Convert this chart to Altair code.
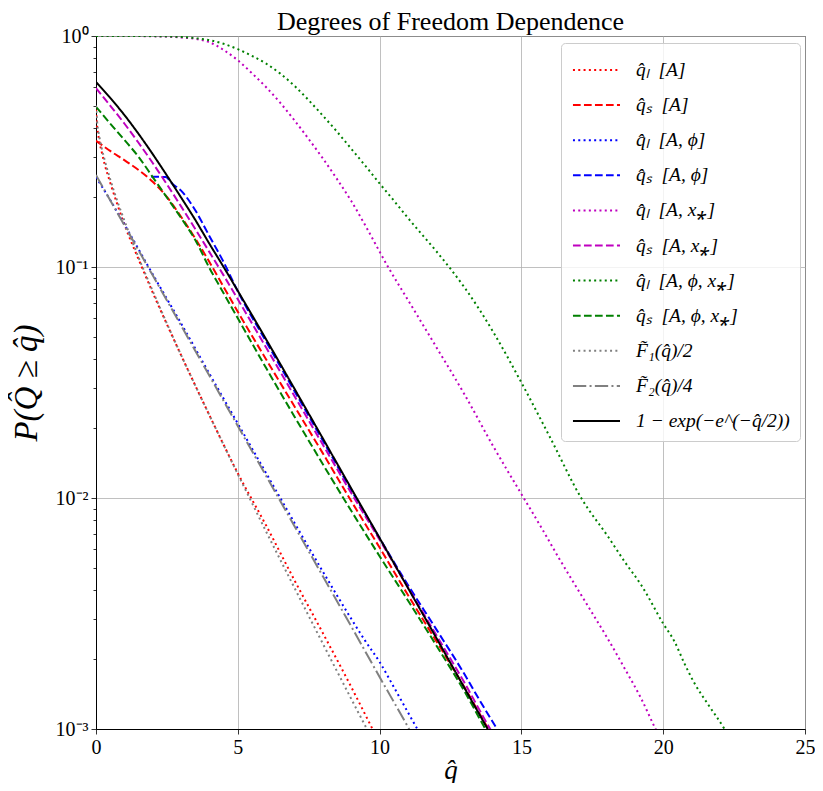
import altair as alt
import pandas as pd

# ---------------- data ----------------
labels = [
    "q̂ₗ\u2002[A]", "q̂ₛ\u2002[A]",
    "q̂ₗ\u2002[A, ϕ]", "q̂ₛ\u2002[A, ϕ]",
    "q̂ₗ\u2002[A, x⁎]", "q̂ₛ\u2002[A, x⁎]",
    "q̂ₗ\u2002[A, ϕ, x⁎]", "q̂ₛ\u2002[A, ϕ, x⁎]",
    "F̃₁(q̂)/2", "F̃₂(q̂)/4",
    "1 − exp(−e^(−q̂/2))",
]

# q_L [A]  (red dotted)
qL_A_q = [0, 0.03, 0.1, 0.2, 0.3, 0.5, 0.75, 1, 1.5, 2, 2.5, 3, 3.5, 4, 5, 6, 7, 8, 9, 9.75, 9.9]
qL_A_p = [0.48, 0.42, 0.36, 0.315, 0.28, 0.232, 0.187, 0.153, 0.108, 0.0775, 0.0565, 0.0415, 0.0307,
          0.0228, 0.0128, 0.0076, 0.0044, 0.0026, 0.00152, 0.001, 0.00092]
# q_S [A]  (red dashed)
qS_A_q = [0, 0.2, 0.5, 1, 1.5, 2, 2.5, 3, 3.5, 4, 4.5, 5, 6, 7, 8, 9, 10, 11, 12, 13, 13.84, 14]
qS_A_p = [0.352, 0.338, 0.318, 0.290, 0.263, 0.234, 0.201, 0.165, 0.133, 0.105, 0.082, 0.064, 0.0398,
          0.0249, 0.0156, 0.0097, 0.0061, 0.0038, 0.0024, 0.00151, 0.001, 0.00093]
# q_L [A, phi]  (blue dotted)
qL_Aphi_q = [0, 0.5, 1, 2, 3, 4, 5, 6, 7, 8, 9, 9.5, 10, 10.5, 11, 11.33, 11.5]
qL_Aphi_p = [0.245, 0.195, 0.153, 0.093, 0.057, 0.0345, 0.021, 0.0128, 0.0078, 0.0048, 0.0030, 0.0024,
             0.00195, 0.00152, 0.00118, 0.001, 0.00092]
# q_S [A, phi]  (blue dashed)
qS_Aphi_q = [1.95, 2.45, 2.7, 3, 3.5, 4, 4.5, 5, 6, 7, 8, 9, 10, 11, 12, 13, 13.5, 14.14, 14.3]
qS_Aphi_p = [0.246, 0.245, 0.229, 0.214, 0.176, 0.136, 0.105, 0.0785, 0.0475, 0.0290, 0.0177, 0.0108,
             0.0067, 0.0042, 0.0027, 0.00172, 0.00135, 0.001, 0.00093]
# q_L [A, x*]  (magenta dotted)
qL_Ax_q = [0, 1, 2, 3, 3.6, 4, 4.5, 5, 5.5, 6, 6.5, 7, 7.5, 8, 8.5, 9, 9.5, 10.3, 11, 12, 13, 14, 15,
           15.73, 16.32, 16.9, 17.48, 18.07, 18.65, 19.23, 19.73, 19.9]
qL_Ax_p = [1.0, 1.0, 0.997, 0.985, 0.967, 0.94, 0.87, 0.785, 0.69, 0.60, 0.513, 0.431, 0.358, 0.295,
           0.240, 0.193, 0.151, 0.100, 0.072, 0.045, 0.028, 0.0168, 0.0104, 0.00735, 0.00550, 0.00419,
           0.00320, 0.00243, 0.00182, 0.00135, 0.001, 0.00091]
# q_S [A, x*]  (magenta dashed)
qS_Ax_q = [0, 0.5, 1, 1.5, 2, 2.5, 3, 3.5, 4, 4.5, 5, 6, 7, 8, 9, 10, 11, 12, 13, 13.9, 14.1]
qS_Ax_p = [0.595, 0.50, 0.418, 0.345, 0.282, 0.228, 0.183, 0.146, 0.116, 0.092, 0.0725, 0.0448, 0.0276,
           0.0170, 0.0105, 0.0066, 0.0041, 0.00255, 0.00158, 0.001, 0.00091]
# q_L [A, phi, x*]  (green dotted)
qL_Aphix_q = [0, 1, 2, 3, 3.6, 4, 4.5, 5, 5.5, 6, 6.5, 7, 7.5, 8, 8.5, 9, 9.5, 10, 10.5, 11, 11.5, 12,
              12.45, 13, 13.5, 14, 15, 16, 17.13, 18.07, 18.65, 19.23, 20, 20.4, 20.75, 21.1,
              21.56, 22.14, 22.4]
qL_Aphix_p = [1.0, 1.0, 0.999, 0.99, 0.975, 0.96, 0.925, 0.877, 0.820, 0.759, 0.687, 0.608, 0.527,
              0.452, 0.385, 0.325, 0.274, 0.230, 0.194, 0.163, 0.138, 0.117, 0.100, 0.0813, 0.066,
              0.0525, 0.0316, 0.0184, 0.0099, 0.00676, 0.00528, 0.00419, 0.00286, 0.00239, 0.00192,
              0.00158, 0.00129, 0.00101, 0.00089]
# q_S [A, phi, x*]  (green dashed)
qS_Aphix_q = [0, 0.5, 1, 1.5, 2, 2.5, 3, 3.5, 4, 4.5, 5, 6, 7, 8, 9, 10, 11, 12, 13, 13.73, 13.9]
qS_Aphix_p = [0.494, 0.418, 0.355, 0.300, 0.245, 0.200, 0.163, 0.131, 0.099, 0.077, 0.060, 0.0365,
              0.0225, 0.0140, 0.0088, 0.0056, 0.0036, 0.0023, 0.00145, 0.001, 0.00092]
# F1(q)/2  (gray dotted)
F1_q = [0, 0.05, 0.1, 0.2, 0.3, 0.5, 0.75, 1, 1.5, 2, 2.5, 3, 3.5, 4, 5, 6, 7, 8, 9, 9.55, 9.7]
F1_p = [0.5, 0.411, 0.376, 0.327, 0.292, 0.240, 0.193, 0.159, 0.110, 0.0787, 0.0569, 0.0416, 0.0307,
        0.0228, 0.0127, 0.00715, 0.00408, 0.00234, 0.00135, 0.001, 0.00092]
# F2(q)/4  (gray dash-dot)
F2_q = [0, 1, 2, 3, 4, 5, 6, 7, 8, 9, 10, 11, 11.2]
F2_p = [0.25, 0.1516, 0.0920, 0.0558, 0.0338, 0.0205, 0.01245, 0.00755, 0.00458, 0.00278, 0.00168,
        0.00102, 0.00092]
# 1 - exp(-e^{-q/2})  (black solid)
G_q = [0, 0.5, 1, 1.5, 2, 2.5, 3, 3.5, 4, 4.5, 5, 6, 7, 8, 9, 10, 11, 12, 13, 14]
G_p = [0.632, 0.540, 0.455, 0.377, 0.308, 0.249, 0.200, 0.160, 0.126, 0.100, 0.0788, 0.0486, 0.0297,
       0.0181, 0.0110, 0.00671, 0.00408, 0.00248, 0.00150, 0.00091]

series_q = [qL_A_q, qS_A_q, qL_Aphi_q, qS_Aphi_q, qL_Ax_q, qS_Ax_q, qL_Aphix_q, qS_Aphix_q, F1_q, F2_q, G_q]
series_p = [qL_A_p, qS_A_p, qL_Aphi_p, qS_Aphi_p, qL_Ax_p, qS_Ax_p, qL_Aphix_p, qS_Aphix_p, F1_p, F2_p, G_p]

colors = ["#ff0000", "#ff0000", "#0000ff", "#0000ff", "#bf00bf", "#bf00bf",
          "#008000", "#008000", "#808080", "#808080", "#000000"]
dot = [2, 3.3]
dash = [7.7, 3.3]
dashes = [dot, dash, dot, dash, dot, dash, dot, dash, dot, [13.3, 3.3, 2, 3.3], [1, 0]]

x_ticks = [0, 5, 10, 15, 20, 25]
y_ticks = [m * 10.0 ** e for e in (-3, -2, -1) for m in range(1, 10)] + [1.0]

rows = []
for k, (lab, qs, ps) in enumerate(zip(labels, series_q, series_p)):
    for q, p in zip(qs, ps):
        rows.append({"series": lab, "q": q, "p": p, "k": k})
df = pd.DataFrame(rows)

FONT = "Liberation Serif"
is_decade = "abs(log(datum.value)/LN10 - round(log(datum.value)/LN10)) < 0.001"
ylab = ("abs(datum.value-1) < 1e-9 ? '10⁰' : abs(datum.value-0.1) < 1e-9 ? '10⁻¹' : "
        "abs(datum.value-0.01) < 1e-10 ? '10⁻²' : abs(datum.value-0.001) < 1e-11 ? '10⁻³' : ''")

chart = alt.Chart(df).mark_line(clip=True, strokeWidth=2, interpolate="monotone").encode(
    x=alt.X("q:Q",
            scale=alt.Scale(domain=[0, 25], nice=False, zero=False),
            axis=alt.Axis(values=x_ticks, title="q̂", titleFontSize=27, titleFont=FONT,
                          titleFontWeight="normal", titleFontStyle="italic", titlePadding=0,
                          labelFontSize=20, labelFont=FONT, labelPadding=3, tickSize=5,
                          labelFlush=False)),
    y=alt.Y("p:Q",
            scale=alt.Scale(type="log", domain=[0.001, 1], nice=False),
            axis=alt.Axis(values=y_ticks, labelExpr=ylab, title="P(Q̂ ≥ q̂)", titleFontSize=33,
                          titleFont=FONT, titleFontWeight="normal", titleFontStyle="italic",
                          titlePadding=12, labelFontSize=20, labelFont=FONT, labelPadding=3,
                          labelFlush=False,
                          gridOpacity={"condition": {"test": is_decade, "value": 1}, "value": 0},
                          tickSize={"condition": {"test": is_decade, "value": 5}, "value": 3})),
    color=alt.Color("series:N", scale=alt.Scale(domain=labels, range=colors), title=None),
    strokeDash=alt.StrokeDash("series:N", scale=alt.Scale(domain=labels, range=dashes), title=None),
    order=alt.Order("k:Q"),
).properties(
    width=709,
    height=693,
    title=alt.TitleParams("Degrees of Freedom Dependence", fontSize=26, font=FONT,
                          fontWeight="normal", anchor="middle", offset=-9, color="black"),
    autosize=alt.AutoSizeParams(type="none"),
    padding={"left": 88, "top": 28, "right": 10, "bottom": 54},
).configure_axis(
    gridColor="#b0b0b0", gridWidth=0.8, domainColor="black", domainWidth=1,
    tickColor="black", tickWidth=0.8, labelColor="black", titleColor="black",
).configure_view(
    stroke="black", strokeWidth=1,
).configure_legend(
    orient="none", legendX=465, legendY=7, padding=10,
    fillColor="rgba(255,255,255,0.8)", strokeColor="#cccccc", cornerRadius=4,
    symbolType="M-0.94,0H2.0", symbolSize=1024, symbolStrokeWidth=2,
    labelFontSize=19.5, labelFont=FONT, labelFontStyle="italic", labelOffset=31,
    rowPadding=8.1, labelLimit=300, labelColor="black",
)

chart.save("out.html", embed_options={"renderer": "svg", "actions": False})
